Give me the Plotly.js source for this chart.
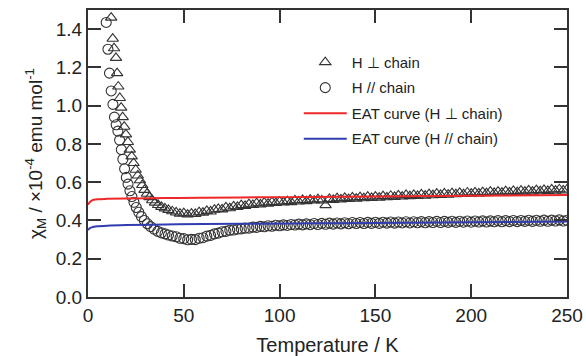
<!DOCTYPE html>
<html>
<head>
<meta charset="utf-8">
<script src="https://cdn.plot.ly/plotly-3.0.1.min.js"></script>
<style>html,body{margin:0;padding:0;background:#fff;}#chart{width:586px;height:356px;}</style>
</head>
<body>
<div id="chart"></div>
<script>
// H ⊥ chain (triangles)
const tempPerp = [12.1,12.9,13.6,14.6,15.2,15.8,16.6,17.3,18.1,18.9,19.8,20.8,21.8,22.8,23.8,24.9,26.0,27.1,28.3,29.5,30.8,32.1,33.5,35.0,36.6,38.3,40.1,
42,44,46,48,50,52,54,56,58,60,62,64,66,68,70,72,74,76,78,80,82,84,86,88,90,92,94,96,98,100,
102,104,106,108,110,112,114,116,118,120,122,124,126,128,130,132,134,136,138,140,142,144,146,148,150,
152,154,156,158,160,162,164,166,168,170,172,174,176,178,180,182,184,186,188,190,192,194,196,198,200,
202,204,206,208,210,212,214,216,218,220,222,224,226,228,230,232,234,236,238,240,242,244,246,248,250];
const chiPerp = [1.46,1.35,1.30,1.25,1.17,1.10,1.04,0.99,0.94,0.89,0.85,0.81,0.77,0.735,0.70,0.665,0.635,0.61,0.585,0.56,0.54,0.522,0.506,0.493,0.481,0.471,0.463,
0.455,0.448,0.442,0.436,0.438,0.431,0.436,0.434,0.443,0.441,0.450,0.447,0.456,0.460,0.458,0.468,0.464,0.474,0.471,0.480,0.476,0.485,0.481,0.490,0.484,0.493,0.488,0.496,0.491,0.498,
0.494,0.501,0.496,0.505,0.499,0.507,0.501,0.509,0.504,0.511,0.505,0.480,0.513,0.507,0.516,0.510,0.518,0.512,0.520,0.514,0.522,0.516,0.524,0.518,0.525,
0.519,0.527,0.521,0.529,0.523,0.531,0.525,0.533,0.527,0.534,0.528,0.536,0.530,0.538,0.532,0.540,0.534,0.541,0.535,0.543,0.537,0.544,0.538,0.546,0.540,
0.547,0.541,0.548,0.543,0.550,0.544,0.551,0.545,0.553,0.547,0.554,0.548,0.556,0.550,0.557,0.551,0.559,0.553,0.560,0.554,0.562,0.556,0.563,0.557,0.562];

// H // chain (circles)
const tempPar = [9.5,10.4,11.2,12.1,13.0,13.8,14.7,15.6,16.5,17.4,18.2,19.1,20.0,20.9,21.9,22.9,24.0,25.2,26.5,27.9,29.4,31.0,32.7,34.5,36.4,38.3,40.2,
42,44,46,48,50,52,54,56,58,60,62,64,66,68,70,72,74,76,78,80,82,84,86,88,90,92,94,96,98,100,
102,104,106,108,110,112,114,116,118,120,122,124,126,128,130,132,134,136,138,140,142,144,146,148,150,
152,154,156,158,160,162,164,166,168,170,172,174,176,178,180,182,184,186,188,190,192,194,196,198,200,
202,204,206,208,210,212,214,216,218,220,222,224,226,228,230,232,234,236,238,240,242,244,246,248,250];
const chiPar = [1.435,1.295,1.17,1.077,1.007,0.94,0.90,0.867,0.82,0.77,0.72,0.67,0.625,0.59,0.555,0.525,0.495,0.468,0.443,0.42,0.40,0.383,0.368,0.355,0.343,0.335,0.330,
0.324,0.319,0.315,0.307,0.305,0.299,0.301,0.300,0.307,0.310,0.318,0.322,0.330,0.334,0.341,0.343,0.349,0.350,0.355,0.356,0.360,0.360,0.365,0.364,0.369,0.367,0.372,0.370,0.375,0.372,
0.377,0.374,0.379,0.376,0.381,0.377,0.382,0.378,0.384,0.379,0.385,0.380,0.386,0.381,0.387,0.382,0.388,0.383,0.389,0.384,0.389,0.384,0.390,0.385,0.391,
0.385,0.391,0.386,0.392,0.386,0.392,0.387,0.393,0.387,0.393,0.388,0.394,0.388,0.394,0.389,0.395,0.389,0.395,0.390,0.396,0.390,0.396,0.391,0.397,0.391,
0.397,0.392,0.398,0.392,0.398,0.393,0.399,0.393,0.399,0.394,0.400,0.394,0.400,0.395,0.401,0.395,0.401,0.396,0.402,0.396,0.402,0.397,0.403,0.397,0.401];

// EAT curves
const tempEAT = [0,0.5,1,2,3,5,10,20,40,60,90,120,150,200,250];
const eatPerp = [0.482,0.490,0.497,0.504,0.508,0.511,0.513,0.515,0.517,0.519,0.521,0.523,0.525,0.529,0.533];
const eatPar  = [0.350,0.356,0.360,0.364,0.367,0.370,0.373,0.376,0.379,0.381,0.383,0.385,0.387,0.391,0.395];

const names = ['H \u22a5 chain', 'H // chain', 'EAT curve (H \u22a5 chain)', 'EAT curve (H // chain)'];

const FONT = 'Arial, "Liberation Sans", sans-serif';
const INK = '#333333';

const traces = [
  {x: tempPerp, y: chiPerp, name: names[0], mode: 'markers', type: 'scatter', legendgroup: 'a',
   marker: {symbol: 'triangle-up-open', size: 10, color: INK, line: {width: 1.1, color: INK}}},
  {x: tempPar, y: chiPar, name: names[1], mode: 'markers', type: 'scatter', legendgroup: 'b',
   marker: {symbol: 'circle-open', size: 10, color: INK, line: {width: 1.1, color: INK}}},
  {x: tempEAT, y: eatPerp, name: names[2], mode: 'lines', type: 'scatter', legendgroup: 'c',
   line: {color: 'rgb(238,40,40)', width: 2, shape: 'spline'}},
  {x: tempEAT, y: eatPar, name: names[3], mode: 'lines', type: 'scatter', legendgroup: 'd',
   line: {color: 'rgb(50,60,175)', width: 2, shape: 'spline'}}
];

const axisCommon = {
  showline: true, linewidth: 2, linecolor: INK, mirror: 'ticks',
  ticks: 'inside', ticklen: 13, tickwidth: 2, tickcolor: INK,
  showgrid: false, zeroline: false,
  tickfont: {family: FONT, size: 19, color: '#222'}
};

const layout = {
  width: 586, height: 356,
  margin: {l: 88, r: 19, t: 10, b: 59},
  paper_bgcolor: '#fff', plot_bgcolor: '#fff',
  font: {family: FONT, color: '#222'},
  showlegend: true,
  legend: {x: 0.44, y: 0.875, xanchor: 'left', yanchor: 'top', bgcolor: 'rgba(0,0,0,0)',
           font: {family: FONT, size: 15, color: '#222'}, tracegroupgap: 3, itemwidth: 43},
  xaxis: Object.assign({}, axisCommon, {
    range: [0, 250], dtick: 50, tick0: 0,
    title: {text: 'Temperature / K', font: {family: FONT, size: 20, color: '#222'}, standoff: 13}
  }),
  yaxis: Object.assign({}, axisCommon, {
    range: [0, 1.5], dtick: 0.2, tick0: 0, tickformat: '.1f',
    title: {text: '\u03c7<sub>M</sub> / \u00d710<sup>-4</sup> emu mol<sup>-1</sup>', font: {family: FONT, size: 19, color: '#222'}, standoff: 8}
  })
};

Plotly.newPlot('chart', traces, layout, {displayModeBar: false, staticPlot: true});
</script>
</body>
</html>
